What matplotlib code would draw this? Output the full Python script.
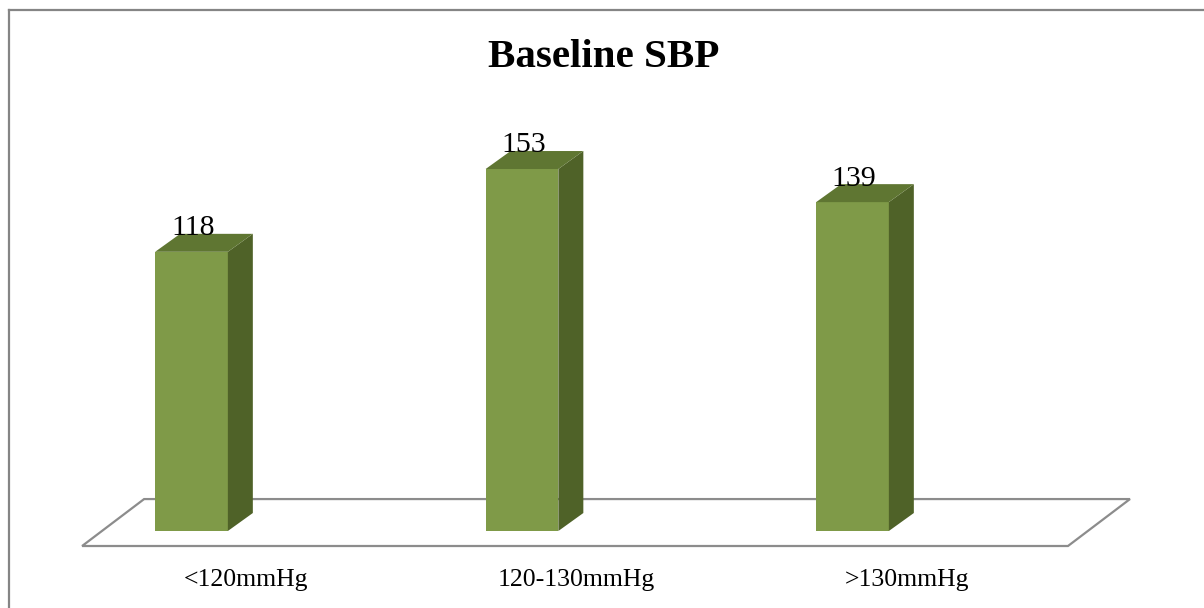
import matplotlib.pyplot as plt
from matplotlib.patches import Polygon, Rectangle
from matplotlib.lines import Line2D

categories = ["<120mmHg", "120-130mmHg", ">130mmHg"]
values = [118, 153, 139]
title = "Baseline SBP"

front_color = "#7f9a48"
side_color = "#4f6228"
top_color = "#5f7632"
floor_color = "#8c8c8c"

plt.rcParams["font.family"] = ["Liberation Serif", "DejaVu Serif"]

fig = plt.figure(figsize=(12.04, 6.08), dpi=100)
ax = fig.add_axes([0, 0, 1, 1])
ax.set_xlim(-191.5 / 330.5, (1204 - 191.5) / 330.5)
ax.set_ylim((531 - 608) / 2.366, 531 / 2.366)
ax.axis("off")

half_w = 0.110   # half bar width (category units)
dx = 0.0756      # depth offset in x
dy = 7.6         # depth offset in y (value units)

# floor
fx0, fx1 = -0.331, 2.652
fy0, fy1 = -6.34, 13.5
fshift = 0.1876
floor = Polygon([(fx0, fy0), (fx1, fy0), (fx1 + fshift, fy1), (fx0 + fshift, fy1)],
                closed=True, facecolor="white", edgecolor=floor_color, lw=1.6, zorder=1)
ax.add_patch(floor)

for i, v in enumerate(values):
    x0, x1 = i - half_w, i + half_w
    ax.add_patch(Rectangle((x0, 0), 2 * half_w, v, facecolor=front_color,
                           edgecolor="none", zorder=3))
    ax.add_patch(Polygon([(x1, 0), (x1 + dx, dy), (x1 + dx, v + dy), (x1, v)],
                         closed=True, facecolor=side_color, edgecolor="none", zorder=3))
    ax.add_patch(Polygon([(x0, v), (x1, v), (x1 + dx, v + dy), (x0 + dx, v + dy)],
                         closed=True, facecolor=top_color, edgecolor="none", zorder=3))
    ax.text(i + 0.005, v + dy - 0.6, str(v), ha="center", va="baseline",
            fontsize=21.5, color="black", zorder=4)
    ax.text(i + 0.165, -20.7, categories[i], ha="center", va="center",
            fontsize=18.5, color="black")

fig.text(603.5 / 1204, 1 - 67 / 608, title, ha="center", va="baseline",
         fontsize=29.5, fontweight="bold")

# outer border (left and top only visible)
bx = 8.5 / 1204
by = 1 - 9.5 / 608
fig.add_artist(Line2D([bx, bx], [0, by], transform=fig.transFigure, color="#858585", lw=1.6))
fig.add_artist(Line2D([bx, 1], [by, by], transform=fig.transFigure, color="#858585", lw=1.6))

fig.savefig("out.png", dpi=100, facecolor="white")
